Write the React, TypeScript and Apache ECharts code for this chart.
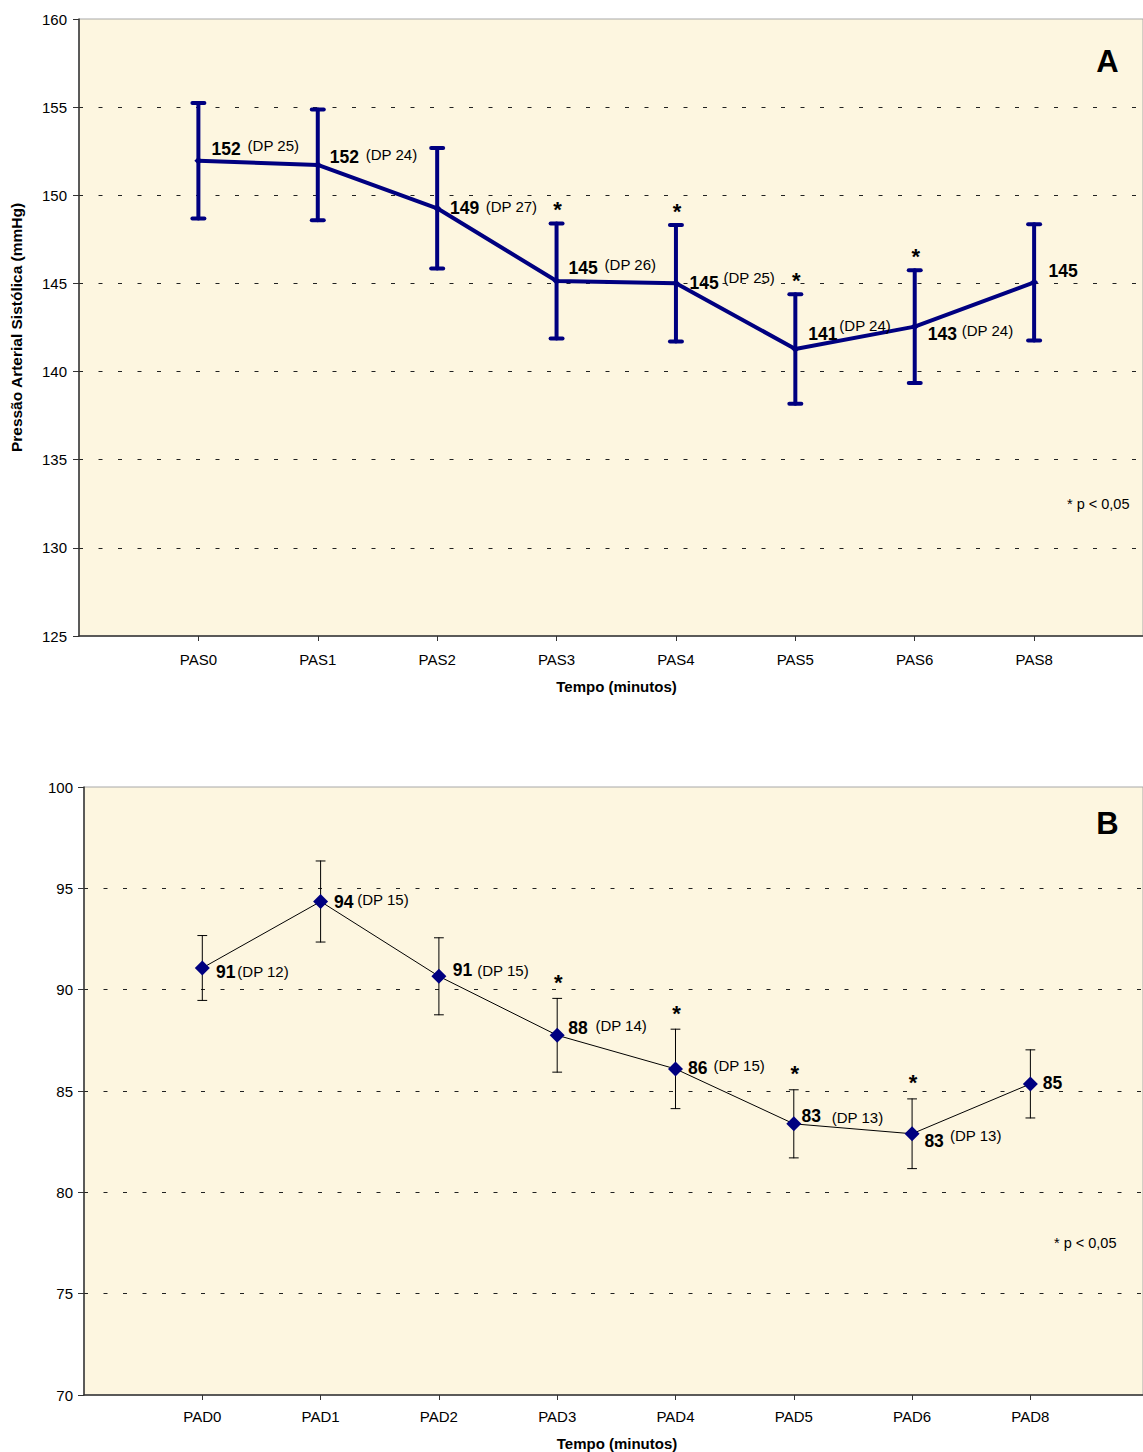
import React, { useEffect, useRef } from "react";
import * as echarts from "echarts";

// Systolic pressure (PAS) series
const sysCategories = ["PAS0", "PAS1", "PAS2", "PAS3", "PAS4", "PAS5", "PAS6", "PAS8"];
const sysMeans = [151.96, 151.72, 149.26, 145.14, 145.01, 141.28, 142.55, 145.06];
const sysErrors = [3.27, 3.14, 3.42, 3.26, 3.3, 3.1, 3.2, 3.3];
const sysSD: (number | null)[] = [25, 24, 27, 26, 25, 24, 24, null];
const sysSignificant = [false, false, false, true, true, true, true, false];
const sysAxisMin = 125;
const sysAxisMax = 160;

// Diastolic pressure (PAD) series
const diaCategories = ["PAD0", "PAD1", "PAD2", "PAD3", "PAD4", "PAD5", "PAD6", "PAD8"];
const diaMeans = [91.07, 94.35, 90.66, 87.75, 86.09, 83.38, 82.89, 85.35];
const diaErrors = [1.6, 2.0, 1.9, 1.82, 1.96, 1.68, 1.72, 1.68];
const diaSD: (number | null)[] = [12, 15, 15, 14, 15, 13, 13, null];
const diaSignificant = [false, false, false, true, true, true, true, false];
const diaAxisMin = 70;
const diaAxisMax = 100;

const yInterval = 5;
const xTickPositions = [1, 2, 3, 4, 5, 6, 7, 8];
// The time axis runs to 9 slots; the plot is cut at the right page edge
const sysXMax = 8.912;
const diaXMax = 8.952;

// Label placement (pixel offsets from each point)
const sysValueOffset = [[13.2, -11.5], [12, -7.7], [12.8, -0.6], [12, -13], [13.5, -0.7], [13, -15.5], [13, 7.7], [14.5, -11.3]];
const sysSdOffset = [[49.2, -15.7], [48, -10], [48.5, -2.3], [48, -16], [47.5, -5.8], [44, -24], [47, 4.2], null];
const diaValueOffset = [[13.7, 3.7], [13.4, 0], [13.8, -6], [11.1, -7.4], [12.5, -1], [7.7, -8], [12.3, 7.4], [12.4, -1]];
const diaSdOffset = [[35, 3.2], [36.7, -1.7], [38.4, -5.4], [38.2, -9.9], [37.9, -3.3], [38, -6.3], [37.9, 2.2], null];

const FONT = "'Liberation Sans', Arial, sans-serif";
const NAVY = "#000080";
const PLOT_BG = "#FDF6E0";

function errorBarSeries(
  axisIndex: number,
  means: number[],
  errors: number[],
  color: string,
  width: number,
  capHalf: number
) {
  return {
    type: "custom",
    xAxisIndex: axisIndex,
    yAxisIndex: axisIndex,
    z: 1,
    silent: true,
    clip: false,
    data: means.map((m, i) => [i + 1, m, errors[i]]),
    encode: { x: 0, y: 1 },
    renderItem: (_params: any, api: any) => {
      const x = api.value(0);
      const m = api.value(1);
      const e = api.value(2);
      const top = api.coord([x, m + e]);
      const bot = api.coord([x, m - e]);
      const style = { stroke: color, lineWidth: width, lineCap: "round" };
      return {
        type: "group",
        children: [
          { type: "line", shape: { x1: top[0], y1: top[1], x2: bot[0], y2: bot[1] }, style },
          { type: "line", shape: { x1: top[0] - capHalf, y1: top[1], x2: top[0] + capHalf, y2: top[1] }, style },
          { type: "line", shape: { x1: bot[0] - capHalf, y1: bot[1], x2: bot[0] + capHalf, y2: bot[1] }, style },
        ],
      };
    },
  };
}

function labelSeries(
  axisIndex: number,
  means: number[],
  errors: number[],
  sds: (number | null)[],
  significant: boolean[],
  valueOffset: number[][],
  sdOffset: (number[] | null)[],
  starShift: number
) {
  return {
    type: "custom",
    xAxisIndex: axisIndex,
    yAxisIndex: axisIndex,
    z: 10,
    silent: true,
    clip: false,
    data: means.map((m, i) => [i + 1, m, errors[i], i]),
    encode: { x: 0, y: 1 },
    renderItem: (_params: any, api: any) => {
      const x = api.value(0);
      const m = api.value(1);
      const e = api.value(2);
      const i = api.value(3);
      const p = api.coord([x, m]);
      const top = api.coord([x, m + e]);
      const children: any[] = [
        {
          type: "text",
          x: p[0] + valueOffset[i][0],
          y: p[1] + valueOffset[i][1],
          style: {
            text: String(Math.round(m)),
            fill: "#000",
            fontFamily: FONT,
            fontSize: 17.5,
            fontWeight: "bold",
            align: "left",
            verticalAlign: "middle",
          },
        },
      ];
      const sd = sds[i];
      const off = sdOffset[i];
      if (sd !== null && off) {
        children.push({
          type: "text",
          x: p[0] + off[0],
          y: p[1] + off[1],
          style: {
            text: `(DP ${sd})`,
            fill: "#000",
            fontFamily: FONT,
            fontSize: 15,
            align: "left",
            verticalAlign: "middle",
          },
        });
      }
      if (significant[i]) {
        children.push({
          type: "text",
          x: top[0] + 1,
          y: top[1] + starShift,
          style: {
            text: "*",
            fill: "#000",
            fontFamily: FONT,
            fontSize: 22,
            fontWeight: "bold",
            align: "center",
            verticalAlign: "bottom",
          },
        });
      }
      return { type: "group", children };
    },
  };
}

function xAxisFor(
  gridIndex: number,
  categories: string[],
  max: number,
  nameGap: number,
  nameShift: number,
  labelMargin: number
) {
  return {
    type: "value",
    gridIndex,
    min: 0,
    max,
    interval: 1,
    name: "Tempo (minutos)",
    nameLocation: "middle",
    nameGap,
    nameTextStyle: {
      fontFamily: FONT,
      fontSize: 15,
      fontWeight: "bold",
      color: "#000",
      padding: [0, 0, 0, nameShift],
    },
    axisLine: { show: true, onZero: false, lineStyle: { color: "#333", width: 1.5 } },
    axisTick: { show: true, length: 5, customValues: xTickPositions, lineStyle: { color: "#333", width: 1 } },
    axisLabel: {
      customValues: xTickPositions,
      formatter: (v: number) => categories[v - 1] ?? "",
      margin: labelMargin,
      fontFamily: FONT,
      fontSize: 15,
      color: "#000",
    },
    splitLine: { show: false },
  };
}

function yAxisFor(gridIndex: number, min: number, max: number, labelMargin: number, title?: string) {
  return {
    type: "value",
    gridIndex,
    min,
    max,
    interval: yInterval,
    name: title ?? "",
    nameLocation: "middle",
    nameRotate: 90,
    nameGap: 55,
    nameTextStyle: { fontFamily: FONT, fontSize: 15.5, fontWeight: "bold", color: "#000" },
    axisLine: { show: true, lineStyle: { color: "#333", width: 1.5 } },
    axisTick: { show: true, length: 6, lineStyle: { color: "#333", width: 1 } },
    axisLabel: { margin: labelMargin, fontFamily: FONT, fontSize: 15, color: "#000" },
    splitLine: {
      show: true,
      showMinLine: false,
      showMaxLine: false,
      lineStyle: { color: "#222", width: 1, type: [4, 15.5] },
    },
  };
}

export default function App() {
  const ref = useRef<HTMLDivElement>(null);

  useEffect(() => {
    if (!ref.current) return;
    const chart = echarts.init(ref.current, undefined, { renderer: "svg" });

    const option: any = {
      animation: false,
      backgroundColor: "#ffffff",
      grid: [
        {
          left: 78,
          top: 19,
          right: 0,
          height: 617,
          show: true,
          backgroundColor: PLOT_BG,
          borderColor: "#a8a8a8",
          borderWidth: 1,
        },
        {
          left: 84,
          top: 787,
          right: 0,
          height: 609,
          show: true,
          backgroundColor: PLOT_BG,
          borderColor: "#a8a8a8",
          borderWidth: 1,
        },
      ],
      xAxis: [
        xAxisFor(0, sysCategories, sysXMax, 43, 11, 16),
        xAxisFor(1, diaCategories, diaXMax, 41, 7, 14),
      ],
      yAxis: [
        yAxisFor(0, sysAxisMin, sysAxisMax, 12, "Pressão Arterial Sistólica (mmHg)"),
        yAxisFor(1, diaAxisMin, diaAxisMax, 11),
      ],
      series: [
        errorBarSeries(0, sysMeans, sysErrors, NAVY, 4, 6),
        {
          type: "line",
          xAxisIndex: 0,
          yAxisIndex: 0,
          z: 3,
          data: sysMeans.map((m, i) => [i + 1, m]),
          symbol: "diamond",
          symbolSize: 8,
          itemStyle: { color: NAVY },
          lineStyle: { color: NAVY, width: 4 },
          silent: true,
        },
        labelSeries(0, sysMeans, sysErrors, sysSD, sysSignificant, sysValueOffset, sysSdOffset, -3),
        errorBarSeries(1, diaMeans, diaErrors, "#000", 1, 4.5),
        {
          type: "line",
          xAxisIndex: 1,
          yAxisIndex: 1,
          z: 3,
          data: diaMeans.map((m, i) => [i + 1, m]),
          symbol: "diamond",
          symbolSize: 15,
          showAllSymbol: true,
          itemStyle: { color: NAVY },
          lineStyle: { color: "#000", width: 1 },
          silent: true,
        },
        labelSeries(1, diaMeans, diaErrors, diaSD, diaSignificant, diaValueOffset, diaSdOffset, -5),
      ],
      graphic: [
        {
          type: "text",
          x: 1107.5,
          y: 61,
          style: { text: "A", fontFamily: FONT, fontSize: 31, fontWeight: "bold", fill: "#000", align: "center", verticalAlign: "middle" },
        },
        {
          type: "text",
          x: 1107.5,
          y: 823,
          style: { text: "B", fontFamily: FONT, fontSize: 31, fontWeight: "bold", fill: "#000", align: "center", verticalAlign: "middle" },
        },
        {
          type: "text",
          x: 1067,
          y: 504,
          style: { text: "* p < 0,05", fontFamily: FONT, fontSize: 14.5, fill: "#000", align: "left", verticalAlign: "middle" },
        },
        {
          type: "text",
          x: 1054,
          y: 1243,
          style: { text: "* p < 0,05", fontFamily: FONT, fontSize: 14.5, fill: "#000", align: "left", verticalAlign: "middle" },
        },
      ],
    };

    chart.setOption(option);
    return () => chart.dispose();
  }, []);

  return (
    <div
      ref={ref}
      style={{ position: "absolute", left: 0, top: 0, width: 1143, height: 1452, overflow: "hidden" }}
    />
  );
}
